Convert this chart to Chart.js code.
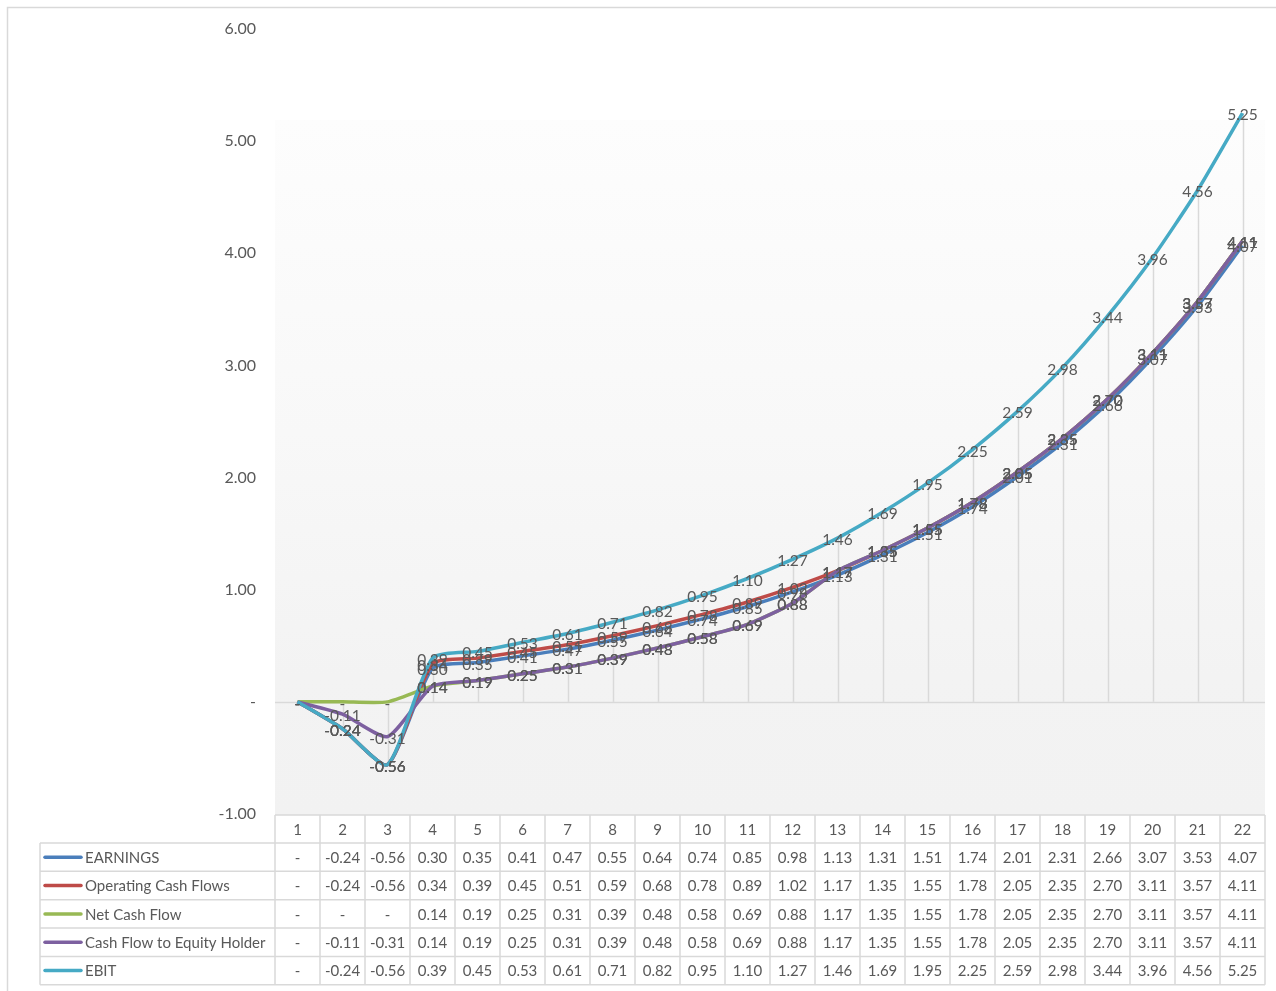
<!DOCTYPE html>
<html>
<head>
<meta charset="utf-8">
<script src="https://cdn.jsdelivr.net/npm/chart.js@4/dist/chart.umd.min.js"></script>
<style>
  html, body { margin: 0; padding: 0; background: #ffffff; }
  #wrap { position: relative; width: 1276px; height: 991px; }
</style>
</head>
<body>
<div id="wrap"><canvas id="c" width="1276" height="991"></canvas></div>
<script>
// Period numbers along the category axis
const periods = ['1','2','3','4','5','6','7','8','9','10','11','12','13','14','15','16','17','18','19','20','21','22'];

// Series values (per period)
const earnings = [0, -0.24, -0.56, 0.30, 0.35, 0.41, 0.47, 0.55, 0.64, 0.74, 0.85, 0.98, 1.13, 1.31, 1.51, 1.74, 2.01, 2.31, 2.66, 3.07, 3.53, 4.07];
const operatingCashFlows = [0, -0.24, -0.56, 0.34, 0.39, 0.45, 0.51, 0.59, 0.68, 0.78, 0.89, 1.02, 1.17, 1.35, 1.55, 1.78, 2.05, 2.35, 2.70, 3.11, 3.57, 4.11];
const netCashFlow = [0, 0, 0, 0.14, 0.19, 0.25, 0.31, 0.39, 0.48, 0.58, 0.69, 0.88, 1.17, 1.35, 1.55, 1.78, 2.05, 2.35, 2.70, 3.11, 3.57, 4.11];
const cashFlowToEquity = [0, -0.11, -0.31, 0.14, 0.19, 0.25, 0.31, 0.39, 0.48, 0.58, 0.69, 0.88, 1.17, 1.35, 1.55, 1.78, 2.05, 2.35, 2.70, 3.11, 3.57, 4.11];
const ebit = [0, -0.24, -0.56, 0.39, 0.45, 0.53, 0.61, 0.71, 0.82, 0.95, 1.10, 1.27, 1.46, 1.69, 1.95, 2.25, 2.59, 2.98, 3.44, 3.96, 4.56, 5.25];

// Series names and colours
const seriesNames = ['EARNINGS', 'Operating Cash Flows', 'Net Cash Flow', 'Cash Flow to Equity Holder', 'EBIT'];
const seriesColors = ['#4a7ebb', '#be4b48', '#98b954', '#7d60a0', '#46aac5'];
const seriesValues = [earnings, operatingCashFlows, netCashFlow, cashFlowToEquity, ebit];

// Value axis tick values
const yTickValues = [-1, 0, 1, 2, 3, 4, 5, 6];

const FONT = 'Lato, "Open Sans", sans-serif';
const TEXT = '#595959';
const GRID = '#d9d9d9';

function fmt(v) {
  if (Math.abs(v) < 1e-9) return '-';
  return v.toFixed(2);
}

// Plot background, zero axis line and drop lines, drawn under the series
const backdrop = {
  id: 'backdrop',
  beforeDraw(chart) {
    const ctx = chart.ctx;
    const a = chart.chartArea;
    const y = chart.scales.y, x = chart.scales.x;
    ctx.save();
    // outer chart frame
    ctx.strokeStyle = GRID;
    ctx.lineWidth = 1.5;
    ctx.strokeRect(7.5, 7.5, 1300, 1100);
    // plot area gradient
    const top = 120;
    const g = ctx.createLinearGradient(0, top, 0, a.bottom);
    g.addColorStop(0, '#fdfdfd');
    g.addColorStop(0.45, '#f8f8f8');
    g.addColorStop(0.8, '#f3f3f3');
    g.addColorStop(1, '#f2f2f2');
    ctx.fillStyle = g;
    ctx.fillRect(a.left, top, a.right - a.left, a.bottom + 1 - top);
    // drop lines
    const y0 = y.getPixelForValue(0);
    ctx.strokeStyle = GRID;
    ctx.lineWidth = 1.5;
    for (let i = 0; i < periods.length; i++) {
      let hi = 0, lo = 0;
      seriesValues.forEach(s => { hi = Math.max(hi, s[i]); lo = Math.min(lo, s[i]); });
      const px = Math.round(x.getPixelForValue(i)) + 0.5;
      ctx.beginPath();
      ctx.moveTo(px, y.getPixelForValue(hi));
      ctx.lineTo(px, y.getPixelForValue(lo));
      ctx.stroke();
    }
    // category axis line at zero
    ctx.beginPath();
    ctx.moveTo(a.left, Math.round(y0) + 0.5);
    ctx.lineTo(a.right, Math.round(y0) + 0.5);
    ctx.stroke();
    ctx.restore();
  }
};

// Value labels centred on each point
const valueLabels = {
  id: 'valueLabels',
  afterDatasetsDraw(chart) {
    const ctx = chart.ctx;
    ctx.save();
    ctx.font = '15.5px ' + FONT;
    ctx.fillStyle = TEXT;
    ctx.textAlign = 'center';
    ctx.textBaseline = 'middle';
    chart.data.datasets.forEach((ds, di) => {
      const meta = chart.getDatasetMeta(di);
      meta.data.forEach((pt, i) => {
        ctx.fillText(fmt(ds.data[i]), pt.x, pt.y + 2);
      });
    });
    ctx.restore();
  }
};

// Data table with legend keys under the plot
const dataTable = {
  id: 'dataTable',
  afterDraw(chart) {
    const ctx = chart.ctx;
    const a = chart.chartArea;
    const x = chart.scales.x;
    const colW = (a.right - a.left) / periods.length;
    const headTop = a.bottom + 1;
    const headH = 28;
    const rowH = 28.35;
    const legL = 40;
    const bodyTop = headTop + headH;
    const bodyBottom = bodyTop + rowH * seriesNames.length;
    ctx.save();
    // white cells
    ctx.fillStyle = '#ffffff';
    ctx.fillRect(a.left, headTop, a.right - a.left, headH);
    ctx.fillRect(legL, bodyTop, a.right - legL, bodyBottom - bodyTop);
    // grid lines
    ctx.strokeStyle = GRID;
    ctx.lineWidth = 1.5;
    ctx.beginPath();
    ctx.moveTo(a.left, headTop); ctx.lineTo(a.right, headTop);
    for (let r = 0; r <= seriesNames.length; r++) {
      const yy = bodyTop + r * rowH;
      ctx.moveTo(legL, yy); ctx.lineTo(a.right, yy);
    }
    ctx.moveTo(legL, bodyTop); ctx.lineTo(legL, bodyBottom);
    for (let c = 0; c <= periods.length; c++) {
      const xx = a.left + c * colW;
      ctx.moveTo(xx, headTop); ctx.lineTo(xx, bodyBottom);
    }
    ctx.stroke();
    // text
    ctx.font = '15px ' + FONT;
    ctx.fillStyle = TEXT;
    ctx.textBaseline = 'middle';
    ctx.textAlign = 'center';
    periods.forEach((p, i) => {
      ctx.fillText(p, x.getPixelForValue(i), headTop + headH / 2 + 1);
    });
    seriesNames.forEach((name, r) => {
      const cy = bodyTop + r * rowH + rowH / 2 + 1;
      ctx.textAlign = 'center';
      seriesValues[r].forEach((v, i) => {
        ctx.fillText(fmt(v), x.getPixelForValue(i), cy);
      });
      // legend key
      ctx.strokeStyle = seriesColors[r];
      ctx.lineWidth = 3.5;
      ctx.lineCap = 'round';
      ctx.beginPath();
      ctx.moveTo(45, cy - 1);
      ctx.lineTo(81, cy - 1);
      ctx.stroke();
      ctx.textAlign = 'left';
      ctx.fillText(name, 85, cy);
    });
    ctx.restore();
  }
};

const datasets = seriesNames.map((name, i) => ({
  label: name,
  data: seriesValues[i],
  borderColor: seriesColors[i],
  backgroundColor: seriesColors[i],
  borderWidth: 3.5,
  pointRadius: 0,
  tension: 0.2,
  fill: false,
  order: seriesNames.length - i
}));

new Chart(document.getElementById('c'), {
  type: 'line',
  data: { labels: periods, datasets },
  options: {
    responsive: false,
    animation: false,
    layout: { padding: { top: 29, right: 11, bottom: 177, left: 0 } },
    plugins: { legend: { display: false }, tooltip: { enabled: false } },
    scales: {
      x: {
        display: false,
        offset: true
      },
      y: {
        min: -1,
        max: 6,
        afterFit(scale) { scale.width = 275; },
        afterBuildTicks(scale) { scale.ticks = yTickValues.map(v => ({ value: v })); },
        grid: { display: false },
        border: { display: false },
        ticks: {
          padding: 11,
          color: TEXT,
          font: { family: FONT, size: 16 },
          callback: v => fmt(v)
        }
      }
    }
  },
  plugins: [backdrop, valueLabels, dataTable]
});
</script>
</body>
</html>
